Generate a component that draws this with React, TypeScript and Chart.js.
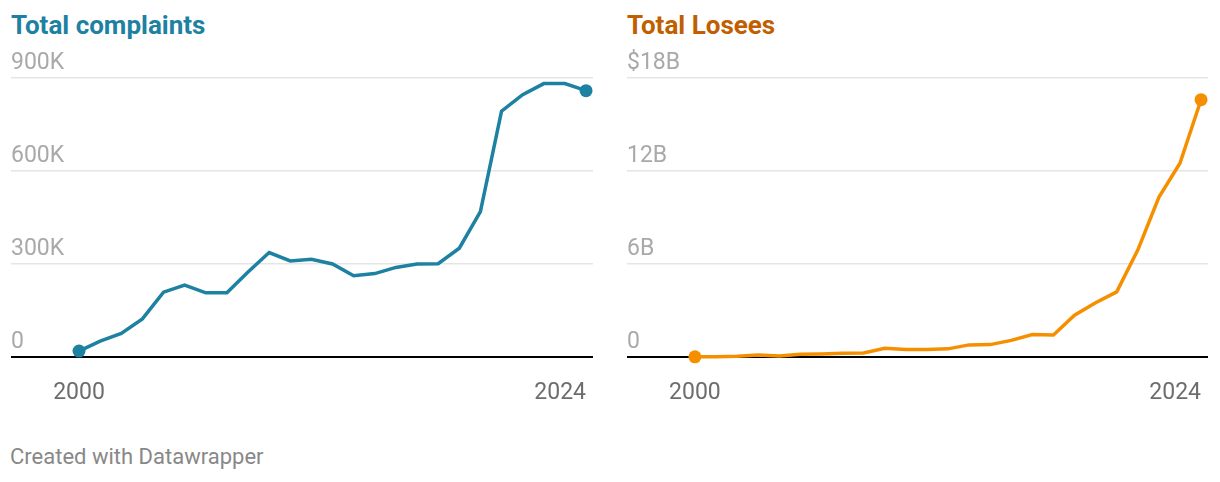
import React, { useEffect, useRef } from "react";
import { Chart, registerables } from "chart.js";

Chart.register(...registerables);

const years = [2000, 2001, 2002, 2003, 2004, 2005, 2006, 2007, 2008, 2009, 2010, 2011, 2012, 2013, 2014, 2015, 2016, 2017, 2018, 2019, 2020, 2021, 2022, 2023, 2024];
// thousands of complaints
const complaints = [19, 51, 76, 123, 209, 232, 207, 207, 274, 337, 310, 315, 300, 262, 269, 289, 300, 301, 351, 469, 793, 846, 882, 882, 859];
// billions of dollars
const losses = [0.01, 0.018, 0.054, 0.125, 0.068, 0.183, 0.198, 0.239, 0.265, 0.56, 0.485, 0.485, 0.525, 0.782, 0.8, 1.07, 1.45, 1.42, 2.7, 3.5, 4.2, 6.9, 10.3, 12.5, 16.6];

const complaintTicks = [0, 300, 600, 900];
const complaintTickLabels = ["0", "300K", "600K", "900K"];
const lossTicks = [0, 6, 12, 18];
const lossTickLabels = ["0", "6B", "12B", "$18B"];
const xLabelYears = [2000, 2024];

const FONT = "Roboto";

type PanelProps = {
  values: number[];
  color: string;
  ticks: number[];
  tickLabels: string[];
  padLeft: number;
  padRight: number;
  xMin: number;
  xMax: number;
};

const CANVAS_TOP = 40;
const CANVAS_H = 370;
const CANVAS_W = 610;

function Panel({ values, color, ticks, tickLabels, padLeft, padRight, xMin, xMax }: PanelProps) {
  const ref = useRef<HTMLCanvasElement | null>(null);
  useEffect(() => {
    if (!ref.current) return;
    const last = values.length - 1;
    const xLabelPlugin = {
      id: "xLabels",
      afterDraw(chart: any) {
        const ctx = chart.ctx;
        const xs = chart.scales.x;
        ctx.save();
        ctx.font = `23px ${FONT}`;
        ctx.fillStyle = "#6d6d6d";
        ctx.textBaseline = "alphabetic";
        xLabelYears.forEach((yr, i) => {
          const px = xs.getPixelForValue(yr);
          ctx.textAlign = i === xLabelYears.length - 1 ? "right" : "center";
          ctx.fillText(String(yr), px, 399 - CANVAS_TOP);
        });
        ctx.restore();
      },
    };
    const chart = new Chart(ref.current, {
      type: "line",
      data: {
        datasets: [
          {
            data: years.map((y, i) => ({ x: y, y: values[i] })),
            borderColor: color,
            backgroundColor: color,
            borderWidth: 3.5,
            tension: 0,
            pointRadius: (c: any) => (c.dataIndex === 0 || c.dataIndex === last ? 6.5 : 0),
            pointHoverRadius: 0,
            pointBorderWidth: 0,
            clip: false as any,
          },
        ],
      },
      options: {
        responsive: false,
        animation: false,
        events: [],
        layout: {
          padding: {
            left: padLeft,
            right: padRight,
            top: 78 - CANVAS_TOP,
            bottom: CANVAS_TOP + CANVAS_H - 357,
          },
        },
        plugins: { legend: { display: false }, tooltip: { enabled: false } },
        scales: {
          x: { type: "linear", display: false, min: xMin, max: xMax },
          y: {
            min: ticks[0],
            max: ticks[ticks.length - 1],
            afterBuildTicks: (s: any) => {
              s.ticks = ticks.map((v) => ({ value: v }));
            },
            border: { display: false },
            grid: {
              drawTicks: false,
              color: (c: any) => (c.tick && c.tick.value === 0 ? "#000000" : "#e5e5e5"),
              lineWidth: (c: any) => (c.tick && c.tick.value === 0 ? 2 : 1.5),
            },
            ticks: {
              mirror: true,
              padding: 0,
              labelOffset: -15,
              color: "#a9a9a9",
              font: { family: FONT, size: 23 },
              callback: (v: any) => {
                const idx = ticks.indexOf(Number(v));
                return idx >= 0 ? tickLabels[idx] : "";
              },
            },
          },
        },
      },
      plugins: [xLabelPlugin],
    });
    return () => chart.destroy();
  }, []);
  return <canvas ref={ref} width={CANVAS_W} height={CANVAS_H} style={{ width: CANVAS_W, height: CANVAS_H, display: "block" }} />;
}

export default function App() {
  return (
    <div style={{ position: "fixed", left: 0, top: 0, width: 1220, height: 482, background: "#fff", fontFamily: FONT, overflow: "hidden" }}>
      <div style={{ position: "absolute", left: 11, top: 10, fontSize: 26, lineHeight: "30px", fontWeight: 700, color: "#1d81a2", whiteSpace: "nowrap" }}>
        Total complaints
      </div>
      <div style={{ position: "absolute", left: 627, top: 10, fontSize: 26, lineHeight: "30px", fontWeight: 700, color: "#c05e00", whiteSpace: "nowrap" }}>
        Total Losees
      </div>
      <div style={{ position: "absolute", left: 0, top: CANVAS_TOP }}>
        <Panel values={complaints} color="#1d81a2" ticks={complaintTicks} tickLabels={complaintTickLabels} padLeft={11} padRight={17} xMin={1996.78} xMax={2024.33} />
      </div>
      <div style={{ position: "absolute", left: 610, top: CANVAS_TOP }}>
        <Panel values={losses} color="#f68f00" ticks={lossTicks} tickLabels={lossTickLabels} padLeft={17} padRight={12} xMin={1996.78} xMax={2024.33} />
      </div>
      <div style={{ position: "absolute", left: 10, top: 444, fontSize: 22, lineHeight: "26px", color: "#888888", whiteSpace: "nowrap" }}>
        Created with Datawrapper
      </div>
    </div>
  );
}
